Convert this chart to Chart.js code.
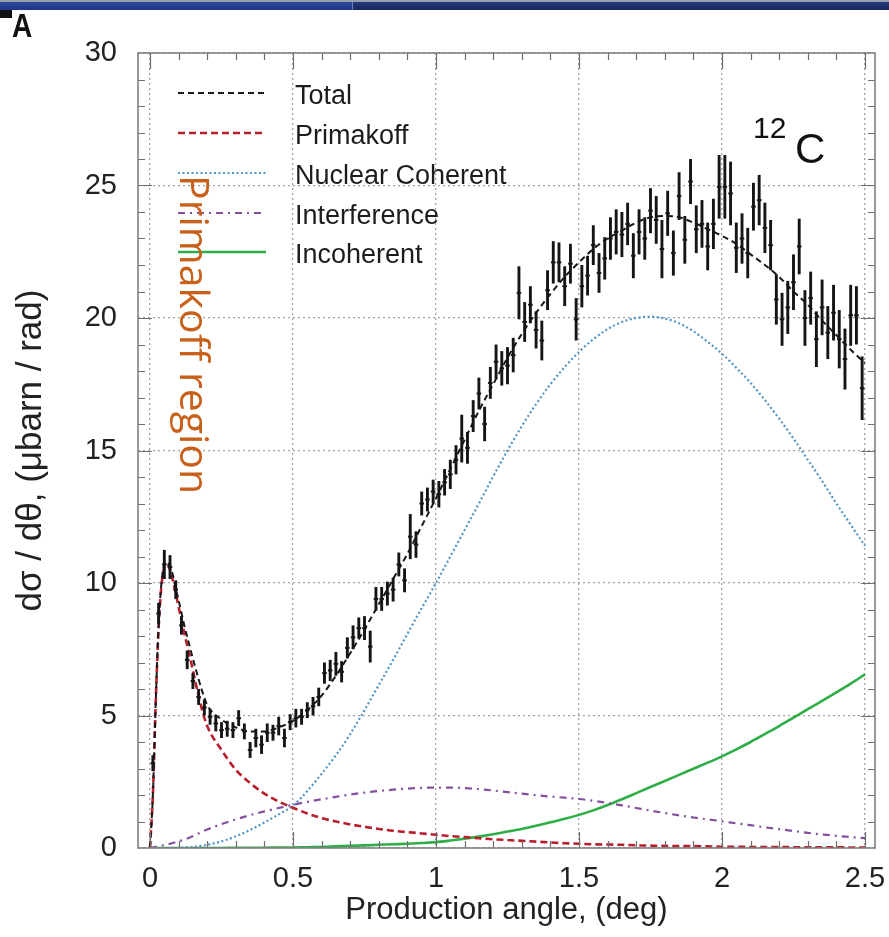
<!DOCTYPE html>
<html>
<head>
<meta charset="utf-8">
<title>12C production angle</title>
<script src="https://cdn.jsdelivr.net/npm/chart.js@4.4.0/dist/chart.umd.min.js"></script>
<style>
  html, body { margin: 0; padding: 0; background: #fff; }
  #wrap { position: relative; width: 889px; height: 937px; overflow: hidden; background: #fff; }
  #chartBox { position: absolute; left: 0; top: 0; width: 889px; height: 937px; }
  #topbar { position: absolute; left: 0; top: 0; width: 889px; height: 10px;
            background: linear-gradient(#9a9ea8 0, #9a9ea8 2px, #2c4a9e 2px, #1e3784 10px); }
  #topbar2 { position: absolute; left: 352px; top: 2px; width: 537px; height: 8px;
             background: linear-gradient(#22397e, #17295f); border-left: 1px solid #6a7fb8; }
  #leftmark { position: absolute; left: 0; top: 10px; width: 12px; height: 8px; background: #111; }
  #panel { position: absolute; left: 12px; top: 7px; line-height: 1; transform-origin: 0 0; transform: scaleX(0.85);
           font: bold 33px 'Liberation Sans', Arial, sans-serif; color: #111; }
  #nucleus { position: absolute; left: 753px; top: 113px; line-height: 1; color: #111;
             font-family: 'Liberation Sans', Arial, sans-serif; white-space: nowrap; }
  #nucleus .mass { font-size: 30px; vertical-align: top; }
  #nucleus .sym { position: absolute; left: 42px; top: 15px; font-size: 42px; line-height: 1; }
  #region { position: absolute; left: 224px; top: 175px; line-height: 1; white-space: nowrap;
            transform-origin: 0 0; transform: rotate(90deg);
            font: 41px 'Open Sans', 'Noto Sans', sans-serif; color: #c8601a; }
</style>
</head>
<body>
<div id="wrap">
  <div id="chartBox"><canvas id="xsChart"></canvas></div>
  <div id="topbar"></div>
  <div id="topbar2"></div>
  <div id="leftmark"></div>
  <div id="panel">A</div>
  <div id="nucleus"><span class="mass">12</span><span class="sym">C</span></div>
  <div id="region">Primakoff region</div>
</div>
<script>
// measured cross section, bin centres in deg
const angles = [
  0.01, 0.03, 0.05, 0.07, 0.09, 0.11, 0.13, 0.15, 0.17, 0.19,
  0.21, 0.23, 0.25, 0.27, 0.29, 0.31, 0.33, 0.35, 0.37, 0.39,
  0.41, 0.43, 0.45, 0.47, 0.49, 0.51, 0.53, 0.55, 0.57, 0.59,
  0.61, 0.63, 0.65, 0.67, 0.69, 0.71, 0.73, 0.75, 0.77, 0.79,
  0.81, 0.83, 0.85, 0.87, 0.89, 0.91, 0.93, 0.95, 0.97, 0.99,
  1.01, 1.03, 1.05, 1.07, 1.09, 1.11, 1.13, 1.15, 1.17, 1.19,
  1.21, 1.23, 1.25, 1.27, 1.29, 1.31, 1.33, 1.35, 1.37, 1.39,
  1.41, 1.43, 1.45, 1.47, 1.49, 1.51, 1.53, 1.55, 1.57, 1.59,
  1.61, 1.63, 1.65, 1.67, 1.69, 1.71, 1.73, 1.75, 1.77, 1.79,
  1.81, 1.83, 1.85, 1.87, 1.89, 1.91, 1.93, 1.95, 1.97, 1.99,
  2.01, 2.03, 2.05, 2.07, 2.09, 2.11, 2.13, 2.15, 2.17, 2.19,
  2.21, 2.23, 2.25, 2.27, 2.29, 2.31, 2.33, 2.35, 2.37, 2.39,
  2.41, 2.43, 2.45, 2.47, 2.49
];
const crossSection = [
  3.2, 8.85, 10.7, 10.6, 9.75, 8.4, 7.1, 6.3, 5.7, 5.3,
  4.95, 4.7, 4.45, 4.5, 4.45, 4.9, 4.4, 3.7, 4.15, 3.9,
  4.35, 4.35, 4.6, 4.15, 4.75, 4.9, 4.95, 5.2, 5.35, 5.7,
  6.6, 6.7, 6.95, 6.65, 7.55, 7.95, 8.3, 8.3, 7.6, 9.4,
  9.4, 9.6, 9.75, 10.7, 10.1, 11.75, 11.45, 13.0, 13.15, 13.45,
  13.35, 13.8, 14.1, 14.65, 15.45, 15.1, 16.3, 17.15, 16.0, 17.55,
  18.35, 18.1, 18.2, 18.6, 20.95, 19.85, 20.5, 19.55, 19.15, 21.05,
  22.1, 22.1, 21.2, 22.05, 19.95, 21.2, 21.6, 22.75, 21.7, 22.25,
  23.0, 23.25, 23.15, 23.55, 22.35, 23.25, 23.0, 24.05, 23.7, 22.6,
  23.95, 22.45, 24.6, 22.95, 25.15, 23.35, 23.55, 22.7, 23.55, 24.95,
  24.95, 24.7, 22.65, 23.0, 22.45, 24.2, 24.45, 23.4, 22.75, 20.7,
  19.95, 20.4, 21.35, 22.7, 20.0, 20.75, 19.2, 20.4, 19.45, 20.2,
  19.2, 18.45, 20.1, 20.1, 17.35
];
const crossErr = [
  0.3, 0.4, 0.55, 0.45, 0.35, 0.35, 0.35, 0.3, 0.3, 0.3,
  0.3, 0.3, 0.3, 0.3, 0.3, 0.3, 0.3, 0.3, 0.35, 0.35,
  0.35, 0.3, 0.35, 0.35, 0.3, 0.35, 0.3, 0.3, 0.35, 0.35,
  0.4, 0.4, 0.45, 0.4, 0.4, 0.45, 0.4, 0.45, 0.6, 0.45,
  0.45, 0.45, 0.45, 0.45, 0.45, 0.85, 0.5, 0.45, 0.45, 0.45,
  0.5, 0.5, 0.55, 0.55, 0.9, 0.6, 0.6, 0.6, 0.65, 0.6,
  0.65, 0.65, 0.7, 0.65, 1.0, 0.75, 0.7, 0.7, 0.75, 0.75,
  0.8, 0.75, 0.75, 0.75, 0.8, 0.8, 0.75, 0.75, 0.75, 0.8,
  0.8, 0.85, 0.85, 0.8, 0.85, 0.85, 0.8, 0.85, 0.9, 1.1,
  0.85, 0.85, 0.9, 0.9, 0.85, 0.9, 0.9, 0.9, 0.95, 1.2,
  1.2, 1.2, 0.95, 0.95, 0.95, 0.9, 0.95, 0.95, 0.95, 0.95,
  1.0, 1.0, 1.05, 1.05, 1.05, 1.0, 1.05, 1.05, 1.0, 1.05,
  1.1, 1.15, 1.15, 1.1, 1.2
];

// model curves
const curveAngles = [
  0, 0.01, 0.02, 0.03, 0.04, 0.05, 0.06, 0.07, 0.08, 0.09, 0.1,
  0.12, 0.14, 0.16, 0.18,
  0.2, 0.25, 0.3, 0.35, 0.4, 0.45, 0.5, 0.55, 0.6, 0.65, 0.7,
  0.75, 0.8, 0.85, 0.9, 0.95, 1.0, 1.05, 1.1, 1.15, 1.2,
  1.25, 1.3, 1.35, 1.4, 1.45, 1.5, 1.55, 1.6, 1.65, 1.7,
  1.75, 1.8, 1.85, 1.9, 1.95, 2.0, 2.05, 2.1, 2.15, 2.2,
  2.25, 2.3, 2.35, 2.4, 2.45, 2.5
];
const totalFit = [
  0, 2.0, 5.5, 8.4, 10.0, 10.7, 10.8, 10.6, 10.3, 9.8, 9.35,
  8.4, 7.55, 6.75, 6.0,
  5.4, 4.85, 4.55, 4.4, 4.4, 4.55, 4.8, 5.2, 5.75, 6.5, 7.35,
  8.25, 9.2, 10.15, 11.1, 12.15, 13.2, 14.3, 15.4, 16.5, 17.5,
  18.5, 19.4, 20.2, 20.9, 21.55, 22.1, 22.6, 23.0, 23.3, 23.6,
  23.8, 23.85, 23.8, 23.6, 23.35, 23.1, 22.8, 22.4, 22.0, 21.55,
  21.0, 20.5, 19.9, 19.35, 18.8, 18.3
];
const primakoff = [
  0, 2.0, 5.5, 8.3, 9.9, 10.6, 10.7, 10.5, 10.1, 9.6, 9.1,
  8.1, 7.2, 6.2, 5.3,
  4.6, 3.7, 2.95, 2.45, 2.05, 1.75, 1.52, 1.3, 1.13, 1.0, 0.89,
  0.8, 0.72, 0.65, 0.6, 0.55, 0.5, 0.45, 0.41, 0.37, 0.33,
  0.3, 0.27, 0.24, 0.21, 0.18, 0.16, 0.14, 0.13, 0.12, 0.1,
  0.09, 0.08, 0.07, 0.07, 0.06, 0.05, 0.05, 0.04, 0.04, 0.04,
  0.03, 0.03, 0.03, 0.03, 0.02, 0.02
];
const nuclearCoherent = [
  0, 0, 0, 0, 0, 0, 0, 0, 0, 0.01, 0.01,
  0.02, 0.03, 0.05, 0.08,
  0.12, 0.25, 0.44, 0.68, 0.96, 1.27, 1.6, 2.15, 2.8, 3.5, 4.3,
  5.2, 6.15, 7.1, 8.08, 9.05, 10.0, 11.0, 12.0, 13.0, 14.02,
  15.0, 15.92, 16.75, 17.5, 18.15, 18.72, 19.2, 19.58, 19.85, 20.0,
  20.05, 19.98, 19.8, 19.5, 19.1, 18.65, 18.12, 17.55, 16.9, 16.2,
  15.45, 14.65, 13.85, 13.0, 12.2, 11.4
];
const interference = [
  0, 0.02, 0.04, 0.06, 0.09, 0.11, 0.13, 0.16, 0.19, 0.22, 0.25,
  0.32, 0.4, 0.5, 0.6,
  0.7, 0.9, 1.08, 1.24, 1.38, 1.51, 1.63, 1.74, 1.84, 1.93, 2.02,
  2.09, 2.15, 2.2, 2.24, 2.27, 2.28, 2.28, 2.26, 2.22, 2.17,
  2.11, 2.05, 1.99, 1.94, 1.9, 1.85, 1.78, 1.7, 1.61, 1.51,
  1.41, 1.32, 1.23, 1.15, 1.08, 1.01, 0.93, 0.86, 0.78, 0.71,
  0.64, 0.57, 0.51, 0.46, 0.41, 0.37
];
const incoherent = [
  0, 0, 0, 0, 0, 0, 0, 0, 0, 0, 0,
  0, 0, 0, 0,
  0, 0, 0.01, 0.01, 0.01, 0.02, 0.02, 0.03, 0.04, 0.06, 0.08,
  0.1, 0.12, 0.14, 0.16, 0.19, 0.22, 0.28, 0.35, 0.43, 0.52,
  0.62, 0.72, 0.84, 0.97, 1.1, 1.25, 1.42, 1.62, 1.84, 2.07,
  2.3, 2.53, 2.76, 2.99, 3.22, 3.46, 3.72, 4.0, 4.3, 4.6,
  4.92, 5.24, 5.55, 5.87, 6.2, 6.55
];

const xTicks = [0, 0.5, 1, 1.5, 2, 2.5];
const yTicks = [0, 5, 10, 15, 20, 25, 30];

const toXY = (xs, ys) => xs.map((x, i) => ({ x: x, y: ys[i] }));

Chart.defaults.font.family = "'Liberation Sans', Arial, sans-serif";
Chart.defaults.color = '#222';

// frame with inward ticks, like the original plot
const framePlugin = {
  id: 'frame',
  afterDatasetsDraw(chart) {
    const { ctx, chartArea: a, scales: { x, y } } = chart;
    ctx.save();
    ctx.strokeStyle = '#6e6e6e';
    ctx.lineWidth = 1.2;
    ctx.beginPath();
    for (let v = 0; v <= 2.5001; v += 0.1) {
      const major = Math.abs(v * 2 - Math.round(v * 2)) < 1e-6;
      const len = major ? 16 : 7;
      const px = Math.round(x.getPixelForValue(v)) + 0.5;
      ctx.moveTo(px, a.bottom); ctx.lineTo(px, a.bottom - len);
      ctx.moveTo(px, a.top); ctx.lineTo(px, a.top + len);
    }
    for (let v = 1; v < 30; v++) {
      const len = v % 5 === 0 ? 14 : 7;
      const py = Math.round(y.getPixelForValue(v)) + 0.5;
      ctx.moveTo(a.left, py); ctx.lineTo(a.left + len, py);
      ctx.moveTo(a.right, py); ctx.lineTo(a.right - len, py);
    }
    ctx.stroke();
    ctx.strokeStyle = '#808080';
    ctx.lineWidth = 1.6;
    ctx.strokeRect(a.left, a.top, a.right - a.left, a.bottom - a.top);
    ctx.restore();
  }
};

// vertical error bars with short horizontal bin markers
const errorBarPlugin = {
  id: 'errorBars',
  afterDatasetsDraw(chart) {
    const { ctx, chartArea: a, scales: { x, y } } = chart;
    chart.data.datasets.forEach((ds, di) => {
      if (!ds.errors) return;
      const meta = chart.getDatasetMeta(di);
      ctx.save();
      ctx.beginPath();
      ctx.rect(a.left, a.top, a.right - a.left, a.bottom - a.top);
      ctx.clip();
      ctx.strokeStyle = '#151515';
      meta.data.forEach((pt, i) => {
        const v = ds.data[i].y, e = ds.errors[i];
        ctx.lineWidth = 2.9;
        ctx.beginPath();
        ctx.moveTo(pt.x, y.getPixelForValue(v + e));
        ctx.lineTo(pt.x, y.getPixelForValue(v - e));
        ctx.stroke();
        ctx.lineWidth = 2;
        ctx.beginPath();
        ctx.moveTo(x.getPixelForValue(ds.data[i].x - 0.008), pt.y);
        ctx.lineTo(x.getPixelForValue(ds.data[i].x + 0.008), pt.y);
        ctx.stroke();
      });
      ctx.restore();
    });
  }
};

// legend drawn inside the plot, top left
const legendPlugin = {
  id: 'insideLegend',
  afterDraw(chart) {
    const { ctx } = chart;
    const rows = [93, 133, 173, 213, 252];
    ctx.save();
    chart.data.datasets.filter(d => d.inLegend).forEach((d, i) => {
      const yy = rows[i];
      ctx.setLineDash(d.borderDash || []);
      ctx.strokeStyle = d.borderColor;
      ctx.lineWidth = d.borderWidth;
      ctx.beginPath();
      ctx.moveTo(178, yy);
      ctx.lineTo(266, yy);
      ctx.stroke();
      ctx.setLineDash([]);
      ctx.fillStyle = '#1c1c1c';
      ctx.font = "27px 'Liberation Sans', Arial, sans-serif";
      ctx.textBaseline = 'middle';
      ctx.textAlign = 'left';
      ctx.fillText(d.label, 295, yy + 4);
    });
    ctx.restore();
  }
};

const curveStyle = { pointRadius: 0, showLine: true, fill: false, cubicInterpolationMode: 'monotone', inLegend: true };

new Chart(document.getElementById('xsChart'), {
  type: 'line',
  data: {
    datasets: [
      Object.assign({ label: 'Total', data: toXY(curveAngles, totalFit),
        borderColor: '#1a1a1a', borderWidth: 2, borderDash: [6, 4] }, curveStyle),
      Object.assign({ label: 'Primakoff', data: toXY(curveAngles, primakoff),
        borderColor: '#b81f2d', borderWidth: 2.6, borderDash: [7, 4] }, curveStyle),
      Object.assign({ label: 'Nuclear Coherent', data: toXY(curveAngles, nuclearCoherent),
        borderColor: '#4f96c8', borderWidth: 2.2, borderDash: [2, 2.5] }, curveStyle),
      Object.assign({ label: 'Interference', data: toXY(curveAngles, interference),
        borderColor: '#82509e', borderWidth: 2.2, borderDash: [7, 5, 2, 5] }, curveStyle),
      Object.assign({ label: 'Incoherent', data: toXY(curveAngles, incoherent),
        borderColor: '#2fae47', borderWidth: 2.6, borderDash: [] }, curveStyle),
      { label: 'Data', data: toXY(angles, crossSection), errors: crossErr,
        showLine: false, pointRadius: 0, borderColor: '#151515' }
    ]
  },
  options: {
    responsive: true,
    maintainAspectRatio: false,
    animation: false,
    events: [],
    layout: { padding: { top: 53, right: 14, left: 0, bottom: 0 } },
    plugins: { legend: { display: false }, tooltip: { enabled: false } },
    scales: {
      x: {
        type: 'linear', min: -0.042, max: 2.535,
        afterBuildTicks: s => { s.ticks = xTicks.map(v => ({ value: v })); },
        afterFit: s => { s.height = 89; s.paddingLeft = 0; s.paddingRight = 0; },
        grid: { color: '#a2a2a2', lineWidth: 1.3, drawTicks: false },
        border: { display: false, dash: [2, 3] },
        ticks: { padding: 14, color: '#222', font: { size: 29 }, callback: v => String(v) },
        title: { display: true, text: 'Production angle, (deg)', color: '#222',
                 font: { size: 31 }, padding: { top: 0, bottom: 8 } }
      },
      y: {
        type: 'linear', min: 0, max: 30,
        afterBuildTicks: s => { s.ticks = yTicks.map(v => ({ value: v })); },
        afterFit: s => { s.width = 138; s.paddingTop = 0; s.paddingBottom = 0; },
        grid: { color: '#a2a2a2', lineWidth: 1.3, drawTicks: false },
        border: { display: false, dash: [2, 3] },
        ticks: { padding: 21, color: '#222', font: { size: 29 }, callback: v => String(v) },
        title: { display: true, text: 'dσ / dθ, (μbarn / rad)', color: '#222',
                 font: { size: 35 }, padding: { top: 10, bottom: 0 } }
      }
    }
  },
  plugins: [framePlugin, errorBarPlugin, legendPlugin]
});
</script>
</body>
</html>
